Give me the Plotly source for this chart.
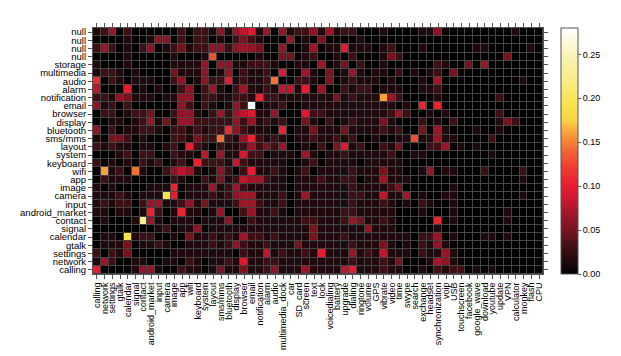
import plotly.graph_objects as go
import numpy as np

x_labels = ["calling","network","settings","gtalk","calendar","signal","contact","android_market","input","camera",
            "image","app","wifi","keyboard","system","layout","sms/mms","bluetooth","display","browser",
            "email","notification","alarm","audio","multimedia_dock","car","SD_card","screen","text","lock",
            "voicedialing","battery","upgrade","dialing","ringtone","volume","GPS","vibrate","video","time",
            "swype","search","exchange","headset","synchronization","voip","USB","touchscreen","facebook","google_wave",
            "download","youtube","update","VPN","calculator","monkey","flash","CPU"]

y_labels = ["null","null","null","null","storage","multimedia","audio","alarm","notification","email",
            "browser","display","bluetooth","sms/mms","layout","system","keyboard","wifi","app","image",
            "camera","input","android_market","contact","signal","calendar","gtalk","settings","network","calling"]

# values in percent (0.01 units), one list per row, top row first
v_null_1 = [1.5,3,6.5,0,3,0,0,0,0,0, 0,3,0,3,3,1.5,6,1.5,6.5,8, 9.5,1.5,6.5,0,6.5,1.5,3,3,6,1.5, 6.5,1.5,3,3,0,0,0,1.5,0,0, 0,0,1.5,1.5,6,0,0,0,0,0, 0,0,0,0,1.5,0,0,0]
v_null_2 = [0,0,0,0,1.5,0,0,1.5,6,6, 0,3,0,3,3,0,1.5,0,3,5, 3,1.5,0,0,0,6.5,0,1.5,0,5, 0,0,0,0,1.5,0,0,0,0,0, 0,0,0,0,0,0,0,0,0,0, 0,0,0,0,0,0,0,0]
v_null_3 = [3,6.5,3,0,1.5,0,3,6,0,1.5, 3,5,1.5,3,3,6,6,3,6,6.5, 6,5,0,0,6.5,0,0,1.5,6.5,0, 1.5,1.5,9.5,1.5,1.5,1.5,0,1.5,3,0, 0,0,1.5,0,0,0,0,0,0,1.5, 1.5,0,0,0,0,0,1.5,0]
v_null_4 = [0,0,0,0,1.5,0,0,0,0,0, 1.5,0,0,0,1.5,13,0,0,0,0, 0,1.5,0,0,5,5,0,1.5,3,0, 0,1.5,0,3,0,0,0,1.5,5,3, 0,0,0,0,0,0,0,0,0,0, 0,0,0,5,0,0,0,0]
v_storage = [1.5,0,0,0,1.5,0,0,0,0,0, 1.5,1.5,1.5,1.5,6.5,0,6,6,1.5,1.5, 3,3,3,1.5,0,0,1.5,1.5,0,6.5, 0,1.5,5,0,3,0,0,1.5,0,0, 0,0,0,0,3,1.5,0,0,5,0, 6.5,0,0,0,0,0,0,0]
v_multimedia = [1.5,3,3,1.5,0,1.5,0,0,0,0, 5,1.5,1.5,1.5,6,0,1.5,6.5,0,3, 1.5,1.5,3,0,9.5,0,0,6.5,1.5,0, 5,0,1.5,6.5,1.5,0,1.5,1.5,0,3, 0,1.5,0,1.5,3,0,5,0,0,0, 0,0,0,0,0,0,0,0]
v_audio = [11,0,3,1.5,0,1.5,1.5,1.5,0,0, 3,6,0,1.5,6,3,3,10,1.5,3, 1.5,1.5,3,14.5,0,0,3,3,1.5,0, 5,0,1.5,3,1.5,1.5,1.5,0,1.5,0, 0,0,1.5,0,7,0,0,0,0,0, 0,0,0,0,0,1.5,0,0]
v_alarm = [8,0,0,0,10,0,1.5,0,1.5,0, 0,3,6,0,3,6.5,1.5,0,3,6.5, 1.5,1.5,3,1.5,8,8,1.5,10,0,6.5, 0,0,3,1.5,3,3,0,1.5,1.5,1.5, 0,0,1.5,1.5,3,0,0,0,0,0, 0,0,0,0,0,0,0,0]
v_notification = [3,3,1.5,6,5,1.5,1.5,1.5,0,1.5, 1.5,6,6,0,3,3,1.5,1.5,3,3, 1.5,10.5,3,3,1.5,1.5,1.5,1.5,1.5,1.5, 1.5,5,1.5,3,1.5,1.5,1.5,16,6.5,3, 0,0,0,0,1.5,0,0,0,0,0, 0,0,3,0,0,0,0,0]
v_email = [6,1.5,3,0,3,0,0,0,0,0, 0,6,3,0,3,1.5,0,1.5,6,3, 28,0,1.5,1.5,3,0,0,1.5,1.5,1.5, 1.5,1.5,1.5,1.5,1.5,1.5,1.5,1.5,1.5,0, 1.5,0,10.5,0,10.5,0,0,0,0,0, 0,0,0,0,0,0,0,0]
v_browser = [0,3,3,0,1.5,3,3,5,0,0, 3,6,6,1.5,0,3,6.5,3,6.5,8, 9.5,1.5,1.5,6.5,0,0,0,9.5,3,3, 1.5,1.5,1.5,1.5,1.5,1.5,1.5,1.5,3,6.5, 3,0,0,1.5,0,1.5,0,0,0,0, 0,0,3,0,0,0,0,0]
v_display = [0,0,1.5,1.5,0,1.5,3,6.5,1.5,5, 1.5,6.5,6.5,3,3,3,3,3,6,3, 6.5,1.5,3,1.5,3,0,0,5,1.5,0, 3,0,1.5,3,1.5,1.5,1.5,5,1.5,0, 0,0,3,0,1.5,0,3,0,0,0, 0,0,1.5,5,3,0,0,0]
v_bluetooth = [6,0,3,0,1.5,1.5,3,3,1.5,0, 3,3,1.5,3,1.5,3,3,11,6,3, 1.5,1.5,1.5,0,10.5,0,1.5,1.5,5,1.5, 1.5,1.5,5,1.5,1.5,1.5,1.5,3,1.5,3, 0,0,5,0,6.5,1.5,0,0,0,1.5, 0,0,1.5,0,0,0,0,0]
v_smsmms = [1.5,0,5,5,3,0,1.5,0,0,0, 3,3,1.5,5,3,3,14.5,3,1.5,6, 10.5,3,1.5,3,1.5,0,1.5,1.5,3,1.5, 1.5,3,1.5,3,0,0,1.5,0,0,1.5, 1.5,13,1.5,1.5,6.5,1.5,1.5,0,0,0, 0,3,0,0,0,0,0,0]
v_layout = [3,1.5,3,1.5,1.5,0,1.5,1.5,0,1.5, 3,0,10,3,1.5,0,3,1.5,1.5,3, 6.5,3,5,3,6.5,0,0,1.5,0,3, 0,5,9.5,1.5,3,0,0,3,1.5,5, 0,0,0,3,3,6.5,0,1.5,0,1.5, 0,0,0,0,0,0,0,0]
v_system = [0,0,0,1.5,3,0,3,3,0,0, 3,1.5,1.5,0,8,0,6.5,1.5,1.5,9, 3,3,0,1.5,1.5,1.5,0,6.5,1.5,0, 1.5,1.5,3,1.5,1.5,1.5,1.5,1.5,3,0, 0,1.5,1.5,0,0,0,0,0,0,0, 0,1.5,0,0,0,0,0,0]
v_keyboard = [3,0,1.5,0,1.5,0,3,1.5,3,0, 1.5,3,0,10.5,3,3,3,1.5,8.5,3, 1.5,1.5,1.5,1.5,1.5,0,0,1.5,3,0, 1.5,1.5,1.5,1.5,0,1.5,1.5,1.5,1.5,1.5, 0,0,0,0,0,0,0,0,0,0, 0,0,0,0,0,0,0,0]
v_wifi = [0,16,1.5,3,0,14.5,1.5,0,0,3, 6,8,6.5,1.5,0,1.5,6,3,0,3, 10,1.5,1.5,3,1.5,0,1.5,3,0,1.5, 1.5,1.5,1.5,3,1.5,1.5,1.5,5,1.5,1.5, 0,0,1.5,6.5,0,1.5,1.5,0,0,0, 3,0,0,0,0,3,0,0]
v_app = [0,3,1.5,1.5,1.5,0,0,0,0,0, 3,1.5,0,0,3,1.5,5,1.5,3,8, 6.5,6.5,3,1.5,1.5,0,1.5,1.5,1.5,3, 1.5,1.5,3,3,0,1.5,1.5,6.5,1.5,1.5, 1.5,0,0,0,0,0,0,0,0,0, 0,0,0,0,0,1.5,0,0]
v_image = [1.5,0,1.5,0,0,0,0,1.5,1.5,1.5, 10.5,0,1.5,1.5,1.5,6.5,1.5,3,6.5,3, 1.5,1.5,1.5,1.5,1.5,0,1.5,1.5,1.5,1.5, 1.5,1.5,1.5,3,1.5,1.5,1.5,1.5,3,5, 0,0,0,0,0,0,1.5,0,0,0, 0,0,0,0,0,0,0,0]
v_camera = [1.5,1.5,1.5,3,1.5,0,1.5,1.5,1.5,19, 10,0,1.5,1.5,1.5,3,1.5,3,6,6.5, 6.5,1.5,1.5,1.5,3,0,1.5,6.5,1.5,1.5, 1.5,1.5,1.5,3,3,1.5,1.5,8,1.5,1.5, 7,0,1.5,0,0,1.5,1.5,0,0,0, 0,0,0,0,0,1.5,0,0]
v_input = [1.5,3,1.5,3,3,0,3,6.5,6.5,1.5, 1.5,3,6,1.5,5,1.5,1.5,1.5,3,6.5, 6.5,3,1.5,1.5,3,0,1.5,1.5,1.5,1.5, 1.5,1.5,1.5,3,1.5,1.5,1.5,3,1.5,0, 1.5,0,3,1.5,0,0,1.5,0,0,0, 0,0,0,0,0,0,0,0]
v_android_market = [1.5,1.5,0,1.5,1.5,0,1.5,10.5,3,0, 1.5,10.5,1.5,1.5,0,1.5,6.5,0,0,3, 6.5,1.5,1.5,3,1.5,0,1.5,1.5,1.5,1.5, 1.5,1.5,3,3,1.5,1.5,1.5,1.5,1.5,0, 0,0,1.5,0,0,0,1.5,0,0,0, 0,0,0,1.5,0,0,0,0]
v_contact = [0,1.5,0,0,0,1.5,23,6.5,1.5,0, 1.5,1.5,1.5,0,1.5,1.5,1.5,6,0,0, 3,1.5,1.5,1.5,1.5,1.5,1.5,3,3,1.5, 1.5,1.5,3,6.5,5,1.5,1.5,3,1.5,0, 0,0,0,0,10.5,0,1.5,0,0,0, 0,0,0,1.5,0,0,0,0]
v_signal = [0,0,0,0,0,0,0,0,1.5,3, 0,1.5,1.5,6,0,1.5,1.5,1.5,1.5,1.5, 1.5,1.5,1.5,1.5,1.5,1.5,1.5,1.5,5,1.5, 1.5,1.5,1.5,1.5,1.5,6,1.5,1.5,1.5,0, 0,0,0,0,1.5,0,0,0,0,0, 0,0,0,0,0,0,0,0]
v_calendar = [0,1.5,1.5,0,19,1.5,3,3,0,0, 1.5,0,5,1.5,1.5,3,1.5,3,1.5,6.5, 3,3,1.5,3,1.5,1.5,1.5,1.5,5,1.5, 1.5,1.5,3,1.5,1.5,1.5,1.5,1.5,1.5,1.5, 1.5,0,3,3,6.5,0,1.5,0,0,0, 1.5,1.5,0,1.5,0,0,0,0]
v_gtalk = [0,1.5,1.5,1.5,5,0,1.5,1.5,3,1.5, 0,0,1.5,1.5,1.5,3,1.5,3,6,3, 1.5,1.5,3,1.5,1.5,1.5,5,1.5,1.5,1.5, 1.5,1.5,1.5,3,1.5,1.5,1.5,5,1.5,0, 1.5,0,3,1.5,6,1.5,0,0,0,0, 0,0,0,0,0,0,0,0]
v_settings = [3,0,3,1.5,5,0,0,0,0,0, 1.5,1.5,1.5,1.5,1.5,1.5,1.5,1.5,0,3, 1.5,1.5,8,1.5,3,1.5,1.5,3,1.5,10, 1.5,1.5,1.5,6.5,1.5,3,1.5,8,1.5,1.5, 1.5,0,3,1.5,1.5,6.5,1.5,0,0,0, 0,0,0,0,0,0,0,0]
v_network = [1.5,6.5,3,0,0,1.5,1.5,0,0,1.5, 1.5,0,3,1.5,0,1.5,1.5,3,1.5,9.5, 1.5,1.5,3,3,1.5,1.5,1.5,1.5,1.5,1.5, 1.5,1.5,1.5,3,1.5,1.5,1.5,3,1.5,5, 0,0,0,1.5,7,6,1.5,0,0,0, 0,0,0,0,0,0,0,0]
v_calling = [10,0,0,0,0,1.5,6,6.5,1.5,0, 0,3,1.5,1.5,0,1.5,5,1.5,1.5,5, 1.5,1.5,3,6,1.5,1.5,1.5,6.5,1.5,1.5, 1.5,1.5,8,10,1.5,1.5,1.5,3,1.5,1.5, 0,0,1.5,0,3,1.5,3,3,0,1.5, 0,1.5,0,0,0,0,0,0]

rows = [v_null_1, v_null_2, v_null_3, v_null_4, v_storage, v_multimedia, v_audio, v_alarm,
        v_notification, v_email, v_browser, v_display, v_bluetooth, v_smsmms, v_layout, v_system,
        v_keyboard, v_wifi, v_app, v_image, v_camera, v_input, v_android_market, v_contact,
        v_signal, v_calendar, v_gtalk, v_settings, v_network, v_calling]
z = np.array(rows, dtype=float) / 100.0

cb_ticks = [0.0, 0.05, 0.10, 0.15, 0.20, 0.25]

zmax = 0.28
stops = [(0.0, "#000000"), (0.01, "#160709"), (0.03, "#3e1016"), (0.05, "#761420"),
         (0.07, "#a3162a"), (0.09, "#d51830"), (0.10, "#e81c30"), (0.12, "#ef3a32"),
         (0.14, "#f26434"), (0.155, "#f69038"), (0.165, "#fbb040"), (0.175, "#f8d445"),
         (0.19, "#f7e24c"), (0.22, "#f8ec84"), (0.25, "#faf4bb"), (0.28, "#ffffff")]
colorscale = [[v / zmax, c] for v, c in stops]

fig = go.Figure(go.Heatmap(
    z=z, x=list(range(len(x_labels))), y=list(range(len(y_labels))),
    zmin=0, zmax=zmax, colorscale=colorscale, xgap=1, ygap=1,
    colorbar=dict(thickness=17, len=1, lenmode="fraction", y=0.5, yanchor="middle",
                  x=1.04, xanchor="left", xpad=0, ypad=0,
                  outlinecolor="#555555", outlinewidth=1,
                  tickvals=cb_ticks, ticktext=["%.2f" % t for t in cb_ticks],
                  ticks="outside", ticklen=3, tickcolor="#555555",
                  tickfont=dict(size=9, color="black")),
))

fig.update_layout(
    width=621, height=356,
    margin=dict(l=83, r=86, t=20, b=90),
    plot_bgcolor="#444444", paper_bgcolor="white",
    font=dict(family="Liberation Sans, Arial, sans-serif", size=9, color="black"),
)
fig.update_xaxes(tickmode="array", tickvals=list(range(len(x_labels))), ticktext=x_labels,
                 tickangle=-90, ticks="outside", ticklen=4, tickcolor="#555555",
                 showline=True, linecolor="#555555", linewidth=1, mirror="ticks",
                 range=[-0.5, len(x_labels) - 0.5], showgrid=False, zeroline=False,
                 tickfont=dict(size=9))
fig.update_yaxes(tickmode="array", tickvals=list(range(len(y_labels))), ticktext=y_labels,
                 ticks="outside", ticklen=4, tickcolor="#555555",
                 showline=True, linecolor="#555555", linewidth=1, mirror="ticks",
                 range=[len(y_labels) - 0.5, -0.5], showgrid=False, zeroline=False,
                 tickfont=dict(size=9.5))

fig.write_html("out.html")
